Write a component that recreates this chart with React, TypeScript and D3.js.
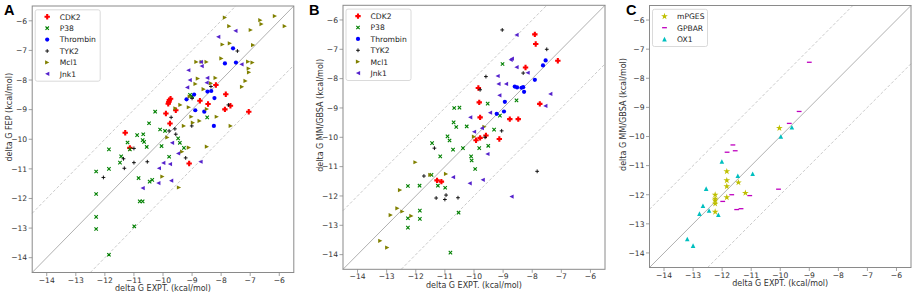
import React from 'react';
import * as d3 from 'd3';

type Pt = [number, number];

const TICKS = [-14, -13, -12, -11, -10, -9, -8, -7, -6];
const DOMAIN: [number, number] = [-14.5, -5.5];
const XLABEL = 'delta G EXPT. (kcal/mol)';

// ---------- Panel A (FEP) ----------
const A_CDK2: Pt[] = [
  [-11.3, -9.78], [-11.14, -10.29], [-9.9, -9.13], [-9.76, -9.47], [-9.56, -9.02], [-9.82, -8.8],
  [-9.8, -8.74], [-9.78, -8.68], [-9.74, -8.63], [-9.1, -10.82], [-8.73, -8.7], [-8.45, -8.81],
  [-8.18, -8.17], [-7.84, -8.48], [-7.87, -8.99], [-7.68, -8.87], [-7.05, -9.07],
];
const A_P38: Pt[] = [
  [-12.3, -11.09], [-12.3, -11.85], [-12.3, -12.62], [-12.3, -13.03], [-11.86, -13.9], [-11.86, -10.34],
  [-11.86, -11.0], [-11.44, -10.58], [-11.48, -10.79], [-11.22, -10.11], [-11.14, -10.34], [-10.89, -9.86],
  [-10.68, -9.83], [-10.7, -10.03], [-10.65, -10.09], [-10.56, -10.26], [-10.48, -9.46], [-10.27, -9.07],
  [-10.1, -9.67], [-9.93, -9.72], [-10.05, -10.23], [-9.48, -9.97], [-9.42, -10.12], [-9.79, -10.59],
  [-9.28, -10.29], [-10.84, -11.31], [-10.8, -12.1], [-10.7, -12.1], [-10.46, -11.43], [-10.37, -11.37],
  [-10.99, -12.94], [-8.48, -9.26], [-9.07, -8.5], [-9.0, -8.55],
];
const A_THROMBIN: Pt[] = [
  [-9.19, -8.65], [-8.93, -8.49], [-8.47, -8.39], [-8.34, -8.37], [-8.23, -8.61], [-8.89, -9.02],
  [-8.25, -9.55], [-7.87, -7.44], [-7.59, -6.93], [-7.49, -7.41], [-8.58, -9.07],
];
const A_TYK2: Pt[] = [
  [-12.05, -11.29], [-11.33, -10.98], [-11.36, -10.66], [-11.0, -10.79], [-11.0, -10.31], [-10.54, -10.76],
  [-9.79, -9.72], [-9.72, -9.26], [-9.59, -9.65], [-9.56, -9.83], [-9.22, -10.63], [-9.0, -8.62],
  [-9.01, -9.55], [-8.35, -8.22], [-7.75, -8.84], [-7.44, -7.02],
];
const A_MCL1: Pt[] = [
  [-7.87, -5.89], [-7.72, -6.18], [-6.65, -5.98], [-6.61, -6.11], [-6.15, -5.84], [-5.81, -6.18],
  [-6.98, -6.31], [-7.95, -6.8], [-7.7, -6.76], [-6.9, -6.82], [-7.07, -7.38], [-6.92, -7.41],
  [-7.05, -7.61], [-7.04, -7.74], [-7.16, -8.03], [-7.28, -8.23], [-7.99, -7.27], [-8.85, -7.39],
  [-8.67, -7.39], [-8.5, -7.39], [-8.8, -7.95], [-8.88, -8.13], [-8.19, -7.93], [-8.35, -8.11],
  [-8.6, -8.31], [-9.08, -8.56], [-9.4, -8.84], [-9.57, -8.96], [-9.11, -8.92], [-8.49, -8.98],
  [-9.02, -9.24], [-8.74, -9.38], [-8.97, -9.44], [-8.15, -9.24], [-9.28, -9.55], [-7.67, -9.55],
  [-8.49, -10.25], [-9.11, -10.28], [-9.34, -10.42], [-9.85, -9.94], [-10.02, -11.26], [-9.45, -11.63],
];
const A_JNK1: Pt[] = [
  [-8.1, -6.54], [-7.51, -6.34], [-9.13, -7.67], [-8.7, -7.39], [-8.67, -7.53], [-9.08, -8.0],
  [-8.48, -7.93], [-8.5, -8.09], [-9.17, -8.25], [-7.3, -7.47], [-9.69, -10.12], [-9.48, -10.48],
  [-9.99, -10.8], [-9.76, -10.84], [-10.14, -10.98], [-8.71, -10.76], [-9.72, -11.4], [-10.16, -11.48],
  [-10.7, -11.65],
];

// ---------- Panel B (MM/GBSA) ----------
const B_CDK2: Pt[] = [
  [-7.91, -6.49], [-7.88, -6.82], [-7.12, -7.39], [-8.23, -7.62], [-9.85, -8.32], [-9.82, -8.81],
  [-9.79, -9.32], [-7.74, -8.86], [-8.77, -9.38], [-8.48, -9.38], [-9.93, -10.1], [-9.79, -10.02],
  [-9.59, -9.94], [-9.13, -10.06], [-11.27, -11.47], [-11.12, -11.51],
];
const B_P38: Pt[] = [
  [-9.02, -7.5], [-9.53, -8.85], [-8.54, -8.74], [-10.68, -9.0], [-10.5, -8.99], [-10.7, -9.49],
  [-10.61, -9.65], [-10.25, -9.63], [-10.91, -9.97], [-10.84, -10.11], [-11.16, -10.65], [-10.72, -10.42],
  [-10.38, -10.37], [-9.82, -10.37], [-9.51, -10.29], [-9.31, -9.74], [-9.11, -9.26], [-10.1, -10.65],
  [-10.08, -10.79], [-9.96, -11.08], [-11.44, -10.2], [-12.27, -11.66], [-11.87, -11.65], [-11.24, -11.65],
  [-10.99, -11.72], [-12.27, -12.76], [-12.27, -13.08], [-11.86, -12.5], [-11.86, -12.78], [-10.53, -12.57],
  [-10.81, -13.93], [-11.46, -11.28],
];
const B_THROMBIN: Pt[] = [
  [-7.54, -7.38], [-7.63, -7.55], [-7.91, -8.04], [-8.6, -8.27], [-8.52, -8.3], [-8.37, -8.31],
  [-8.31, -8.29], [-8.28, -8.45], [-8.94, -8.79], [-8.97, -9.12], [-9.22, -9.2],
];
const B_TYK2: Pt[] = [
  [-9.03, -6.34], [-7.5, -7.0], [-8.31, -7.81], [-9.59, -7.93], [-9.79, -8.38], [-9.05, -9.78],
  [-9.62, -10.0], [-7.83, -11.16], [-11.36, -10.37], [-11.72, -11.32], [-11.3, -12.07], [-10.96, -11.97],
  [-11.0, -12.12], [-10.55, -12.06],
];
const B_MCL1: Pt[] = [
  [-13.22, -13.53], [-12.98, -13.76], [-12.86, -12.65], [-12.63, -12.42], [-12.46, -12.53], [-12.54, -11.8],
  [-12.15, -12.68], [-12.01, -10.85], [-11.5, -11.28], [-10.96, -11.25], [-10.0, -9.98], [-9.64, -9.64],
];
const B_JNK1: Pt[] = [
  [-8.54, -6.51], [-8.74, -7.36], [-8.7, -7.32], [-8.54, -7.61], [-8.16, -7.8], [-9.19, -7.91],
  [-9.16, -8.18], [-8.9, -8.18], [-9.13, -8.57], [-10.13, -9.32], [-10.0, -9.81], [-9.73, -9.69],
  [-9.45, -9.16], [-9.54, -10.57], [-7.38, -8.52], [-7.55, -8.93], [-10.72, -11.36], [-10.15, -11.57],
  [-9.7, -11.45], [-8.71, -12.02],
];

// ---------- Panel C (MM/GBSA) ----------
const C_MPGES: Pt[] = [
  [-10.03, -9.71], [-11.84, -11.2], [-11.84, -11.51], [-11.84, -11.71], [-11.44, -11.58], [-11.2, -11.94],
  [-11.84, -12.09], [-12.24, -12.0], [-12.24, -12.14], [-12.24, -12.2], [-12.24, -12.31], [-12.24, -12.59],
];
const C_GPBAR: Pt[] = [
  [-9.0, -7.45], [-9.35, -9.14], [-9.69, -9.55], [-11.63, -10.29], [-11.55, -10.49], [-11.83, -10.54],
  [-10.06, -11.81], [-11.05, -12.03], [-11.67, -12.0], [-11.98, -12.23], [-11.35, -12.48], [-11.5, -12.51],
];
const C_OX1: Pt[] = [
  [-9.6, -9.68], [-9.98, -10.0], [-12.01, -10.86], [-11.46, -11.35], [-10.95, -11.28], [-12.55, -11.79],
  [-12.66, -12.38], [-12.78, -12.65], [-12.45, -12.54], [-12.13, -12.69], [-13.2, -13.52], [-13.0, -13.75],
];

type Kind = 'P' | 'x' | 'o' | '+' | '>' | '<' | '^' | '_' | '*';
interface Series { name: string; data: Pt[]; color: string; kind: Kind; }

const SERIES_AB = (cdk2: Pt[], p38: Pt[], thr: Pt[], tyk2: Pt[], mcl1: Pt[], jnk1: Pt[]): Series[] => [
  { name: 'CDK2', data: cdk2, color: '#ff0000', kind: 'P' },
  { name: 'P38', data: p38, color: '#008000', kind: 'x' },
  { name: 'Thrombin', data: thr, color: '#0000ff', kind: 'o' },
  { name: 'TYK2', data: tyk2, color: '#000000', kind: '+' },
  { name: 'Mcl1', data: mcl1, color: '#808000', kind: '>' },
  { name: 'Jnk1', data: jnk1, color: '#5522cc', kind: '<' },
];

interface Panel {
  letter: string; letterX: number; ylabel: string; ylabelX: number;
  x0: number; x1: number; y0: number; y1: number; series: Series[];
}

const PANELS: Panel[] = [
  { letter: 'A', letterX: 4, ylabel: 'delta G FEP (kcal/mol)', ylabelX: 9, x0: 32.2, x1: 293.8, y0: 6, y1: 272.5,
    series: SERIES_AB(A_CDK2, A_P38, A_THROMBIN, A_TYK2, A_MCL1, A_JNK1) },
  { letter: 'B', letterX: 309, ylabel: 'delta G MM/GBSA (kcal/mol)', ylabelX: 320, x0: 343, x1: 605, y0: 5.3, y1: 269.3,
    series: SERIES_AB(B_CDK2, B_P38, B_THROMBIN, B_TYK2, B_MCL1, B_JNK1) },
  { letter: 'C', letterX: 626, ylabel: 'delta G MM/GBSA (kcal/mol)', ylabelX: 623, x0: 649.5, x1: 911, y0: 5.5, y1: 267.5,
    series: [
      { name: 'mPGES', data: C_MPGES, color: '#bfbf00', kind: '*' },
      { name: 'GPBAR', data: C_GPBAR, color: '#bf00bf', kind: '_' },
      { name: 'OX1', data: C_OX1, color: '#00bfbf', kind: '^' },
    ] },
];

const FONT = '"DejaVu Sans", sans-serif';
const fmt = (v: number) => (v < 0 ? '\u2212' : '') + Math.abs(v);

function Marker({ kind, color, x, y }: { kind: Kind; color: string; x: number; y: number }) {
  const t = `translate(${x},${y})`;
  switch (kind) {
    case 'P': {
      const r = 2.7, w = 1.05;
      const d = `M${-w},${-r}H${w}V${-w}H${r}V${w}H${w}V${r}H${-w}V${w}H${-r}V${-w}H${-w}Z`;
      return <path transform={t} d={d} fill={color} />;
    }
    case 'x': {
      const r = 1.7;
      return <path transform={t} d={`M${-r},${-r}L${r},${r}M${-r},${r}L${r},${-r}`} stroke={color} strokeWidth={1.1} />;
    }
    case 'o':
      return <circle cx={x} cy={y} r={2.1} fill={color} />;
    case '+': {
      const r = 1.9;
      return <path transform={t} d={`M${-r},0H${r}M0,${-r}V${r}`} stroke={color} strokeWidth={0.9} />;
    }
    case '>': {
      const r = 2.1;
      return <path transform={t} d={`M${r},0L${-r},${-r}L${-r},${r}Z`} fill={color} />;
    }
    case '<': {
      const r = 2.1;
      return <path transform={t} d={`M${-r},0L${r},${-r}L${r},${r}Z`} fill={color} />;
    }
    case '^': {
      const r = 2.3;
      return <path transform={t} d={`M0,${-r}L${r},${r}L${-r},${r}Z`} fill={color} />;
    }
    case '_': {
      const r = 2.4;
      return <path transform={t} d={`M${-r},0H${r}`} stroke={color} strokeWidth={1.3} />;
    }
    case '*': {
      const d = d3.symbol(d3.symbolStar, 14)() || '';
      return <path transform={t} d={d} fill={color} />;
    }
  }
  return null;
}

function PanelView({ p }: { p: Panel }) {
  const xs = d3.scaleLinear().domain(DOMAIN).range([p.x0, p.x1]);
  const ys = d3.scaleLinear().domain(DOMAIN).range([p.y1, p.y0]);
  const line = d3.line<Pt>().x(d => xs(d[0])).y(d => ys(d[1]));
  const diag = (off: number): Pt[] => {
    const pts: Pt[] = [];
    const lo = Math.max(DOMAIN[0], DOMAIN[0] - off);
    const hi = Math.min(DOMAIN[1], DOMAIN[1] - off);
    pts.push([lo, lo + off], [hi, hi + off]);
    return pts;
  };
  const legendTop = p.y0 + 3.8;
  const rowH = 11.4;
  const legendW = p.series.length === 6 ? 65 : 55;
  const cy = (p.y0 + p.y1) / 2 - 22;
  return (
    <g>
      <text x={p.letterX} y={15} fontFamily='"Liberation Sans", Arial, sans-serif' fontWeight="bold" fontSize={14.5} fill="#000">{p.letter}</text>
      <path d={line(diag(0)) || ''} stroke="#b0b0b0" strokeWidth={1} fill="none" />
      <path d={line(diag(2)) || ''} stroke="#c4c4c4" strokeWidth={0.9} strokeDasharray="3,2" fill="none" />
      <path d={line(diag(-2)) || ''} stroke="#c4c4c4" strokeWidth={0.9} strokeDasharray="3,2" fill="none" />
      {p.series.map(s => (
        <g key={s.name}>
          {s.data.map((d, i) => <Marker key={i} kind={s.kind} color={s.color} x={xs(d[0])} y={ys(d[1])} />)}
        </g>
      ))}
      <rect x={p.x0} y={p.y0} width={p.x1 - p.x0} height={p.y1 - p.y0} fill="none" stroke="#8a8a8a" strokeWidth={1} />
      {TICKS.map(v => (
        <g key={'x' + v}>
          <line x1={xs(v)} x2={xs(v)} y1={p.y1} y2={p.y1 + 3.5} stroke="#8a8a8a" strokeWidth={0.8} />
          <text x={xs(v)} y={p.y1 + 10} textAnchor="middle" fontFamily={FONT} fontSize={7.6} fill="#333">{fmt(v)}</text>
        </g>
      ))}
      {TICKS.map(v => (
        <g key={'y' + v}>
          <line x1={p.x0 - 3.5} x2={p.x0} y1={ys(v)} y2={ys(v)} stroke="#8a8a8a" strokeWidth={0.8} />
          <text x={p.x0 - 5} y={ys(v) + 2.8} textAnchor="end" fontFamily={FONT} fontSize={7.6} fill="#333">{fmt(v)}</text>
        </g>
      ))}
      <text x={(p.x0 + p.x1) / 2} y={p.y1 + 18.5} textAnchor="middle" fontFamily={FONT} fontSize={8} fill="#333">{XLABEL}</text>
      <text transform={`translate(${p.ylabelX + 3},${cy}) rotate(-90)`} textAnchor="middle" fontFamily={FONT} fontSize={8} fill="#333">{p.ylabel}</text>
      <rect x={p.x0 + 3} y={legendTop} width={legendW} height={p.series.length * rowH + 3} rx={2} fill="#fff" fillOpacity={0.85} stroke="#d0d0d0" strokeWidth={0.8} />
      {p.series.map((s, i) => (
        <g key={'l' + s.name}>
          <Marker kind={s.kind} color={s.color} x={p.x0 + 15} y={legendTop + 7 + i * rowH} />
          <text x={p.x0 + 27.5} y={legendTop + 9.8 + i * rowH} fontFamily={FONT} fontSize={7.6} fill="#222">{s.name}</text>
        </g>
      ))}
    </g>
  );
}

export default function App() {
  return (
    <svg width={913} height={294} style={{ position: 'absolute', left: 0, top: 0, background: '#fff' }}>
      <rect width={913} height={294} fill="#fff" />
      {PANELS.map(p => <PanelView key={p.letter} p={p} />)}
    </svg>
  );
}
